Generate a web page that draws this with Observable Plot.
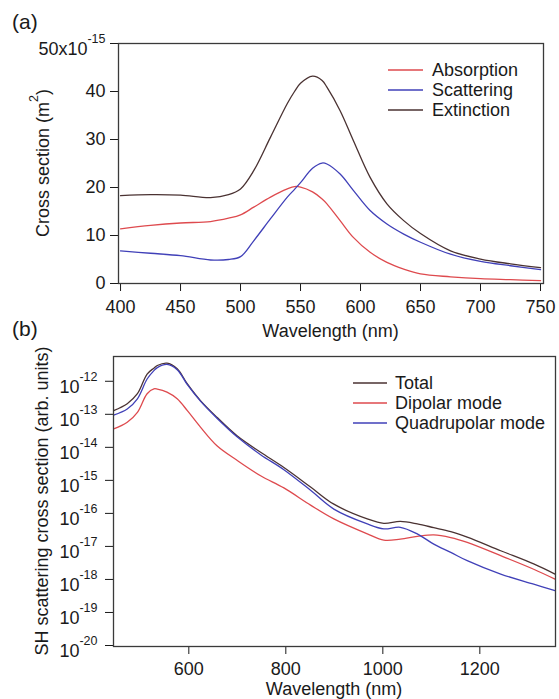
<!DOCTYPE html>
<html>
<head>
<meta charset="utf-8">
<script src="https://cdn.jsdelivr.net/npm/d3@7"></script>
<script src="https://cdn.jsdelivr.net/npm/@observablehq/plot@0.6"></script>
<style>
  html, body { margin: 0; padding: 0; background: #fff; }
  #root { position: relative; width: 559px; height: 699px; overflow: hidden; background: #fff; }
  #root > div { position: absolute; left: 0; }
  #root svg { overflow: visible; }
  #overlay { position: absolute; left: 0; top: 0; pointer-events: none; }
</style>
</head>
<body>
<div id="root">
  <div id="panelA" style="top:0"></div>
  <div id="panelB" style="top:340px"></div>
</div>
<script>
// ---------- Panel (a) data ----------
const wavelengthA = [400, 425, 450, 475, 490, 500, 511, 525, 539, 545, 550, 560, 568, 572, 583, 594, 608, 622, 636, 650, 675, 700, 725, 750];
const absorption  = [11.4, 12.1, 12.6, 12.9, 13.6, 14.3, 15.9, 18.0, 19.7, 20.2, 20.1, 19.1, 17.6, 16.6, 13.1, 9.6, 6.5, 4.4, 3.0, 2.0, 1.4, 1.0, 0.8, 0.6];
const scattering  = [6.8, 6.3, 5.8, 4.9, 5.0, 5.6, 8.9, 13.5, 18.0, 19.6, 21.0, 24.0, 25.1, 24.9, 22.8, 19.4, 15.2, 12.4, 10.3, 8.6, 6.1, 4.6, 3.7, 2.9];
const extinction  = [18.3, 18.5, 18.4, 17.9, 18.5, 19.7, 23.5, 30.5, 37.5, 40.0, 41.7, 43.2, 42.3, 40.9, 36.0, 29.8, 22.1, 16.6, 13.1, 10.4, 6.8, 5.1, 4.1, 3.3];
const seriesA = ["Absorption", "Scattering", "Extinction"];
const xTicksA = [400, 450, 500, 550, 600, 650, 700, 750];
const yTicksA = [0, 10, 20, 30, 40, 50];

// ---------- Panel (b) data ----------
const wavelengthB = [445, 473, 494, 514, 528, 535, 555, 576, 597, 624, 658, 700, 748, 796, 851, 899, 968, 1002, 1036, 1071, 1105, 1140, 1174, 1243, 1311, 1355];
const total       = [1.3e-13, 2.1e-13, 4.2e-13, 1.65e-12, 2.5e-12, 3.0e-12, 3.55e-12, 2.4e-12, 8.3e-13, 2.6e-13, 8.1e-14, 2.2e-14, 7.1e-15, 2.45e-15, 6.3e-16, 1.9e-16, 6.8e-17, 5.0e-17, 5.7e-17, 4.8e-17, 3.7e-17, 2.8e-17, 1.9e-17, 7.4e-18, 2.95e-18, 1.45e-18];
const dipolar     = [3.6e-14, 5.75e-14, 1.15e-13, 4.2e-13, 5.9e-13, 5.8e-13, 4.7e-13, 2.95e-13, 1.29e-13, 4.1e-14, 1.12e-14, 4.0e-15, 1.38e-15, 5.9e-16, 1.78e-16, 6.8e-17, 2.4e-17, 1.55e-17, 1.66e-17, 2.0e-17, 2.24e-17, 1.86e-17, 1.32e-17, 5.25e-18, 2.04e-18, 1.02e-18];
const quadrupolar = [9.5e-14, 1.45e-13, 2.95e-13, 1.17e-12, 2.1e-12, 2.6e-12, 3.25e-12, 2.25e-12, 7.9e-13, 2.5e-13, 7.6e-14, 2.05e-14, 6.0e-15, 2.1e-15, 5.0e-16, 1.35e-16, 4.8e-17, 3.4e-17, 3.8e-17, 2.4e-17, 1.17e-17, 6.6e-18, 3.7e-18, 1.45e-18, 7.2e-19, 4.6e-19];
const seriesB = ["Total", "Dipolar mode", "Quadrupolar mode"];
const xTicksB = [600, 800, 1000, 1200];
const yTicksB = [1e-20, 1e-19, 1e-18, 1e-17, 1e-16, 1e-15, 1e-14, 1e-13, 1e-12];

// ---------- styling ----------
const RED = "#de4a4e", BLUE = "#4040b8", DARK = "#4a3232";
const colorsA = [RED, BLUE, DARK];
const colorsB = [DARK, RED, BLUE];
const FONT = "'Liberation Sans', Arial, Helvetica, sans-serif";
const INK = "#1a1a1a";

const rowsA = seriesA.flatMap((s, k) => wavelengthA.map((w, i) => ({series: s, wavelength: w, value: [absorption, scattering, extinction][k][i]})));
const rowsB = seriesB.flatMap((s, k) => wavelengthB.map((w, i) => ({series: s, wavelength: w, value: [total, dipolar, quadrupolar][k][i]})));

const plotA = Plot.plot({
  width: 559, height: 340,
  marginTop: 43, marginBottom: 57, marginLeft: 118, marginRight: 16,
  style: {fontFamily: FONT, fontSize: "18px", color: INK, background: "transparent", overflow: "visible"},
  x: {domain: [398.3, 752.5], ticks: xTicksA, tickSize: 8, tickPadding: 9, tickFormat: d => String(d), label: null},
  y: {domain: [0, 50], ticks: yTicksA, tickSize: 8, tickPadding: 5, tickFormat: d => d === 50 ? "50x10" : String(d), label: null},
  color: {domain: seriesA, range: colorsA},
  marks: [
    Plot.line(rowsA, {x: "wavelength", y: "value", z: "series", stroke: "series", strokeWidth: 1.3, curve: "catmull-rom"}),
    Plot.frame({stroke: "#3a3a3a", strokeWidth: 1.3})
  ]
});

const plotB = Plot.plot({
  width: 559, height: 359,
  marginTop: 16, marginBottom: 53, marginLeft: 113, marginRight: 4,
  style: {fontFamily: FONT, fontSize: "18px", color: INK, background: "transparent", overflow: "visible"},
  x: {domain: [444.7, 1356], ticks: xTicksB, tickSize: 8, tickPadding: 8, tickFormat: d => String(d), label: null},
  y: {type: "log", domain: [Math.pow(10, -20.03), Math.pow(10, -11.25)], ticks: yTicksB, tickSize: 8, tickPadding: 8,
      tickFormat: d => "10^" + Math.round(Math.log10(d)), label: null},
  color: {domain: seriesB, range: colorsB},
  marks: [
    Plot.line(rowsB, {x: "wavelength", y: "value", z: "series", stroke: "series", strokeWidth: 1.3, curve: "catmull-rom"}),
    Plot.frame({stroke: "#3a3a3a", strokeWidth: 1.3})
  ]
});

document.getElementById("panelA").appendChild(plotA);
document.getElementById("panelB").appendChild(plotB);

// ---------- superscript tick labels ----------
d3.select(plotA).selectAll("text").filter(function () { return this.textContent === "50x10"; })
  .each(function () {
    const t = d3.select(this);
    t.attr("dy", 5.5);
    t.append("tspan").attr("dy", -11.5).attr("font-size", 12.5).text("-15");
  });
d3.select(plotB).selectAll("text").filter(function () { return /^10\^-?\d+$/.test(this.textContent); })
  .each(function () {
    const exp = this.textContent.split("^")[1];
    const t = d3.select(this);
    t.text("10").attr("dy", 5.5);
    t.append("tspan").attr("dy", -12).attr("font-size", 12.5).text(exp);
  });

// ---------- axis titles ----------
function addText(svg, x, y, rotate) {
  return d3.select(svg).append("text")
    .attr("transform", `translate(${x},${y})` + (rotate ? ` rotate(${rotate})` : ""))
    .attr("text-anchor", "middle").attr("font-size", 18).attr("font-family", FONT).attr("fill", INK);
}
addText(plotA, 330.5, 337).text("Wavelength (nm)");
const yta = addText(plotA, 49, 163, -90);
yta.append("tspan").text("Cross section (m");
yta.append("tspan").attr("dy", -11).attr("font-size", 12.5).text("2");
yta.append("tspan").attr("dy", 11).text(")");

addText(plotB, 334, 355).text("Wavelength (nm)");
addText(plotB, 48, 161, -90).text("SH scattering cross section (arb. units)");

// ---------- legends ----------
function legend(svg, items, colors, x0, x1, xt, y0) {
  const g = d3.select(svg).append("g").attr("text-anchor", "start");
  items.forEach((s, i) => {
    const y = y0 + i * 20;
    g.append("line").attr("x1", x0).attr("x2", x1).attr("y1", y).attr("y2", y).attr("stroke", colors[i]).attr("stroke-width", 1.3);
    g.append("text").attr("x", xt).attr("y", y).attr("dy", "0.35em").attr("text-anchor", "start")
      .attr("font-size", 18).attr("font-family", FONT).attr("fill", INK).text(s);
  });
}
legend(plotA, seriesA, colorsA, 388, 423, 432, 70);
legend(plotB, seriesB, colorsB, 353, 387, 395, 43);

// ---------- panel letters ----------
const ov = d3.select("#root").append("svg").attr("id", "overlay").attr("width", 559).attr("height", 699);
ov.append("text").attr("x", 12).attr("y", 29).attr("font-size", 21).attr("font-family", FONT).attr("fill", INK).text("(a)");
ov.append("text").attr("x", 12).attr("y", 336).attr("font-size", 21).attr("font-family", FONT).attr("fill", INK).text("(b)");
</script>
</body>
</html>
